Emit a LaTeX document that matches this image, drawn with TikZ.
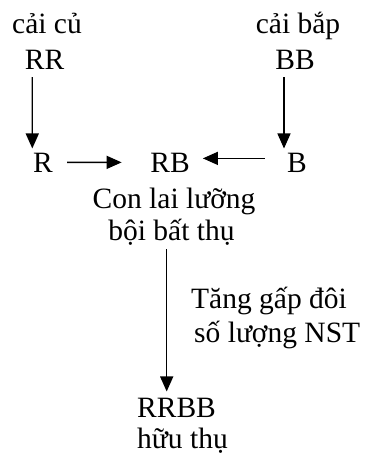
\documentclass[tikz,border=0pt]{standalone}
\usepackage{fontspec}
\setmainfont{Liberation Serif}
\usetikzlibrary{arrows.meta}
\begin{document}
\begin{tikzpicture}[x=1pt,y=-1pt,
  lbl/.style={inner sep=0pt, anchor=base, font=\fontsize{29.5}{32}\selectfont},
  lbll/.style={lbl, anchor=base west},
  arr/.style={line width=1.4pt, -{Triangle[length=15pt,width=13pt]}}]
\useasboundingbox (0,0) rectangle (366,453);
% parent species
\node[lbl] (cu)  at (47,33)  {cải củ};
\node[lbl] (RR)  at (44.5,69) {RR};
\node[lbl] (bap) at (298,33) {cải bắp};
\node[lbl] (BB)  at (295,69) {BB};
% gametes and hybrid
\node[lbl] (R)  at (43,172)  {R};
\node[lbl] (RB) at (170,172) {RB};
\node[lbl] (B)  at (297,172) {B};
\node[lbl] (hy1) at (174,208) {Con lai lưỡng};
\node[lbl] (hy2) at (171.5,240) {bội bất thụ};
% doubling step
\node[lbll] (st1) at (191,308) {Tăng gấp đôi};
\node[lbll] (st2) at (194,342) {số lượng NST};
% fertile allotetraploid
\node[lbll] (RRBB) at (137,417) {RRBB};
\node[lbll] (fert) at (137,448) {hữu thụ};
% connectors
\draw[arr] ([xshift=-12.3pt,yshift=-8pt]RR.south) -- ([xshift=-10.7pt,yshift=4pt]R.north);
\draw[arr] ([xshift=-11pt,yshift=-8pt]BB.south) -- ([xshift=-13pt,yshift=4pt]B.north);
\draw[arr, shorten <=14pt, shorten >=28.5pt] (R.east) -- (RB.west);
\draw[arr, shorten <=22pt, shorten >=13pt] ([yshift=4pt]B.west) -- ([yshift=4pt]RB.east);
\draw[arr] ([xshift=-4.8pt,yshift=-4pt]hy2.south) -- ([xshift=29.7pt,yshift=6pt]RRBB.north west);
\end{tikzpicture}
\end{document}
